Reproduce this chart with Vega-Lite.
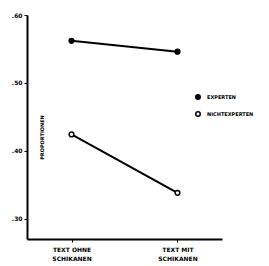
{
  "$schema": "https://vega.github.io/schema/vega-lite/v6.json",
  "autosize": {"type": "none"},
  "padding": {"left": 27, "top": 15, "right": 47, "bottom": 27},
  "width": 195,
  "height": 224,
  "background": "white",
  "config": {
    "view": {"stroke": null},
    "font": "DejaVu Sans",
    "axis": {"grid": false, "domainColor": "black", "tickColor": "black", "labelColor": "black", "titleColor": "black", "labelFont": "DejaVu Sans", "titleFont": "DejaVu Sans"},
    "legend": {"labelColor": "black", "labelFont": "DejaVu Sans"}
  },
  "data": {
    "values": [
      {"condition": "TEXT OHNE|SCHIKANEN", "group": "EXPERTEN", "value": 0.562},
      {"condition": "TEXT MIT|SCHIKANEN", "group": "EXPERTEN", "value": 0.546},
      {"condition": "TEXT OHNE|SCHIKANEN", "group": "NICHTEXPERTEN", "value": 0.424},
      {"condition": "TEXT MIT|SCHIKANEN", "group": "NICHTEXPERTEN", "value": 0.338}
    ]
  },
  "encoding": {
    "x": {
      "field": "condition", "type": "nominal", "sort": ["TEXT OHNE|SCHIKANEN", "TEXT MIT|SCHIKANEN"],
      "scale": {"type": "point", "padding": 0.42},
      "axis": {"title": null, "labelAngle": 0, "labelExpr": "split(datum.label, '|')", "labelFontSize": 6, "labelFontWeight": "bold", "labelLineHeight": 9, "tickSize": 3, "domainWidth": 2, "labelPadding": 4, "labelColor": "black"}
    },
    "y": {
      "field": "value", "type": "quantitative",
      "scale": {"domain": [0.27, 0.6], "zero": false, "nice": false},
      "axis": {"values": [0.3, 0.4, 0.5, 0.6], "format": ".2f", "labelExpr": "replace(datum.label, '0.', '.')", "labelFontSize": 6, "labelFontWeight": "bold", "tickSize": 3, "domainWidth": 2, "labelPadding": 2, "labelColor": "black",
        "title": "PROPORTIONEN", "titleColor": "black", "titleFontSize": 5, "titleFontWeight": "bold", "titleAngle": 270, "titleX": 14, "titleY": 122, "titleAlign": "center", "titleBaseline": "middle"}
    },
    "detail": {"field": "group"}
  },
  "layer": [
    {"mark": {"type": "line", "color": "black", "strokeWidth": 2}},
    {
      "mark": {"type": "point", "stroke": "black", "strokeWidth": 1.5, "size": 22, "filled": false, "opacity": 1},
      "encoding": {
        "fill": {"field": "group", "type": "nominal", "scale": {"domain": ["EXPERTEN", "NICHTEXPERTEN"], "range": ["black", "white"]},
          "legend": {"title": null, "orient": "none", "legendX": 168, "legendY": 79, "padding": 0, "symbolSize": 20, "symbolStrokeColor": "black", "symbolStrokeWidth": 1.5, "labelFontSize": 5, "labelFontWeight": "bold", "labelColor": "black", "labelLimit": 80, "rowPadding": 5, "labelOffset": 6}}
      }
    }
  ]
}
